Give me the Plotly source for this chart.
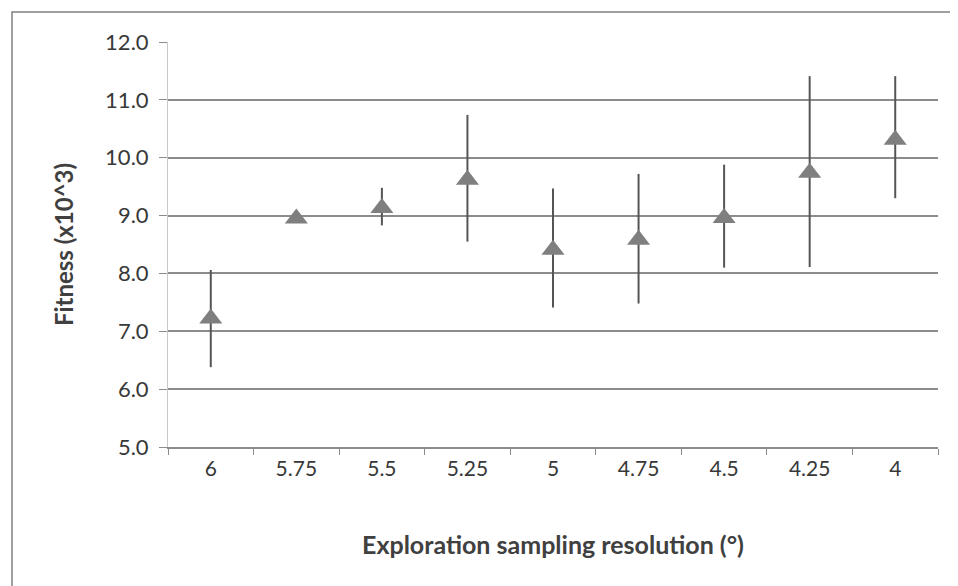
import plotly.graph_objects as go

categories = ["6", "5.75", "5.5", "5.25", "5", "4.75", "4.5", "4.25", "4"]
fitness = [7.22, 8.95, 9.13, 9.62, 8.41, 8.58, 8.96, 9.74, 10.31]
err_plus = [0.84, 0.05, 0.35, 1.12, 1.06, 1.14, 0.92, 1.67, 1.10]
err_minus = [0.84, 0.05, 0.30, 1.07, 1.00, 1.10, 0.86, 1.63, 1.01]
y_ticks = [5, 6, 7, 8, 9, 10, 11, 12]
y_ticktext = ["5.0", "6.0", "7.0", "8.0", "9.0", "10.0", "11.0", "12.0"]

xidx = list(range(len(categories)))

fig = go.Figure()
fig.add_trace(go.Scatter(
    x=xidx, y=fitness, mode="markers",
    marker=dict(symbol="triangle-up", size=20, color="#7f7f7f",
                line=dict(width=0)),
    error_y=dict(type="data", symmetric=False, array=err_plus,
                 arrayminus=err_minus, color="#555555", thickness=2, width=0),
    showlegend=False,
))

font_family = "Lato, 'Open Sans', sans-serif"

# page body has an 8px margin, so the figure starts at (8, 8)
L, T, PW, PH = 160, 34, 770, 405
W, H = 950, 578

fig.update_layout(
    width=W, height=H,
    margin=dict(l=L, r=W - L - PW, t=T, b=H - T - PH),
    paper_bgcolor="white", plot_bgcolor="white",
    font=dict(family=font_family, color="#383838"),
    xaxis=dict(
        range=[-0.5, 8.5], tickvals=xidx, ticktext=categories,
        tickfont=dict(size=21, color="#383838"),
        showgrid=False, zeroline=False,
        showline=True, linecolor="#8c8c8c", linewidth=1.5,
        ticks="", ticklabelstandoff=2,
        minor=dict(tickvals=[i - 0.5 for i in range(10)], ticks="outside",
                   ticklen=6, tickcolor="#8c8c8c", tickwidth=1),
        title=dict(text="<b>Exploration sampling resolution (°)</b>",
                   font=dict(size=25, color="#404040"), standoff=58),
    ),
    yaxis=dict(
        range=[5, 12], tickvals=y_ticks, ticktext=y_ticktext,
        tickfont=dict(size=22, color="#383838"),
        showgrid=True, gridcolor="#8c8c8c", gridwidth=1.5,
        zeroline=False,
        showline=True, linecolor="#c8c8c8", linewidth=1,
        ticks="outside", ticklen=8, tickcolor="#8c8c8c",
        ticklabelstandoff=6,
        title=dict(text="<b>Fitness (x10^3)</b>",
                   font=dict(size=24, color="#404040"), standoff=24),
    ),
)

# outer chart border
fig.add_shape(type="rect", xref="paper", yref="paper",
              x0=(4 - L) / PW, x1=(960 - L) / PW,
              y0=(T + PH - 600) / PH, y1=1 + (T - 4) / PH,
              line=dict(color="#808080", width=1.5), fillcolor="rgba(0,0,0,0)",
              layer="below")

fig.write_html("out.html")
